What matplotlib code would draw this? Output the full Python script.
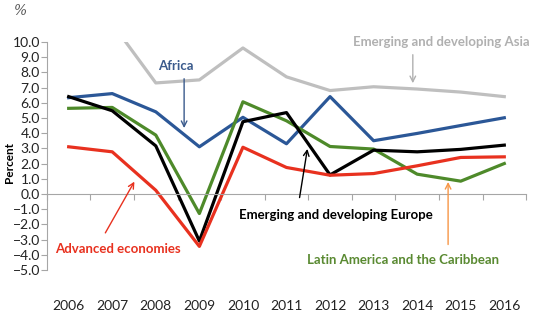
import numpy as np
import matplotlib.pyplot as plt
from matplotlib.ticker import FuncFormatter

years = ['2006', '2007', '2008', '2009', '2010', '2011', '2012', '2013', '2014', '2015', '2016']
asia = [10.4, 11.2, 7.3, 7.5, 9.6, 7.7, 6.8, 7.05, 6.9, 6.7, 6.4]
africa = [6.33, 6.6, 5.4, 3.1, 5.04, 3.3, 6.4, 3.5, 3.98, 4.5, 5.01]
europe = [6.4, 5.47, 3.16, -3.1, 4.75, 5.35, 1.25, 2.88, 2.77, 2.93, 3.21]
latam = [5.63, 5.69, 3.87, -1.29, 6.06, 4.81, 3.12, 2.95, 1.3, 0.84, 2.0]
advanced = [3.1, 2.77, 0.24, -3.45, 3.07, 1.74, 1.23, 1.34, 1.85, 2.4, 2.44]

plt.rcParams['font.family'] = ['Lato', 'DejaVu Sans']

fig = plt.figure(figsize=(5.33, 3.15), dpi=100)
ax = fig.add_axes([0.088, 0.143, 0.899, 0.724])

x = np.arange(len(years))
lw = 2.3
ax.plot(x, asia, color='#bfbfbf', lw=lw)
ax.plot(x, africa, color='#2b5797', lw=lw)
ax.plot(x, latam, color='#4e8a2a', lw=lw)
ax.plot(x, europe, color='black', lw=lw)
ax.plot(x, advanced, color='#e8311f', lw=lw)

ax.set_xlim(-0.5, 10.5)
ax.set_ylim(-5, 10)
ax.set_yticks(np.arange(-5, 11, 1))
ax.yaxis.set_major_formatter(FuncFormatter(lambda v, p: f'{v:.1f}'.replace('-', '\u2212')))
ax.set_xticks(np.arange(-0.5, 11, 1))
ax.set_xticklabels([])
for s in ['top', 'right']:
    ax.spines[s].set_visible(False)
ax.spines['bottom'].set_position(('data', 0))
ax.spines['bottom'].set_color('#a6a6a6')
ax.spines['left'].set_color('#a6a6a6')
ax.tick_params(axis='both', colors='#a6a6a6', length=4, width=0.8, labelcolor='#222222', labelsize=10)
ax.tick_params(axis='y', pad=1)

for i, yr in enumerate(years):
    ax.text(i, -0.158, yr, transform=ax.get_xaxis_transform(), ha='center', va='center', fontsize=10, color='#222222')

ax.set_ylabel('Percent', fontsize=8.5, fontweight='bold', va='center')
ax.yaxis.set_label_coords(-0.079, 0.47)
fig.text(0.038, 0.965, '%', fontsize=10, family='DejaVu Serif', style='italic', color='#555555', ha='center', va='center')

fs = 9.5
ax.text(2.46, 8.44, 'Africa', color='#3a5a8c', fontsize=fs, fontweight='bold', ha='center', va='center')
ax.annotate('', xy=(2.65, 4.15), xytext=(2.65, 7.76),
            arrowprops=dict(arrowstyle='->', color='#3a5a8c', lw=1.0))

ax.text(8.56, 10.02, 'Emerging and developing Asia', color='#b0b0b0', fontsize=fs, fontweight='bold',
        ha='center', va='center', clip_on=False)
ax.annotate('', xy=(7.9, 7.1), xytext=(7.9, 9.34),
            arrowprops=dict(arrowstyle='->', color='#b0b0b0', lw=1.0))

ax.text(6.14, -1.4, 'Emerging and developing Europe', color='black', fontsize=fs, fontweight='bold',
        ha='center', va='center')
ax.annotate('', xy=(5.49, 3.14), xytext=(5.29, -0.42),
            arrowprops=dict(arrowstyle='->', color='black', lw=1.0))

ax.text(1.12, -3.65, 'Advanced economies', color='#e8311f', fontsize=fs, fontweight='bold',
        ha='center', va='center')
ax.annotate('', xy=(1.54, 0.97), xytext=(0.81, -2.72),
            arrowprops=dict(arrowstyle='->', color='#e8311f', lw=1.0))

ax.text(7.68, -4.37, 'Latin America and the Caribbean', color='#5a8a32', fontsize=fs, fontweight='bold',
        ha='center', va='center')
ax.annotate('', xy=(8.71, 0.97), xytext=(8.71, -3.51),
            arrowprops=dict(arrowstyle='->', color='#f79646', lw=1.0))

fig.savefig('out.png', dpi=100)
